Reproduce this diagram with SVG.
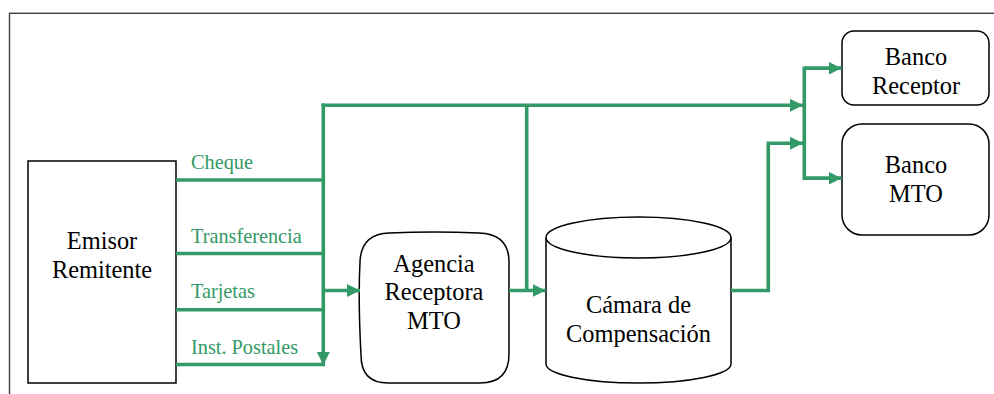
<svg xmlns="http://www.w3.org/2000/svg" width="994" height="394" viewBox="0 0 994 394">
<style>
.frame{fill:none;stroke:#404040;stroke-width:1.4}
.box{fill:#fff;stroke:#000;stroke-width:1.5}
.t{font-family:'Liberation Serif','DejaVu Serif',serif;font-size:24.4px;fill:#000;text-anchor:middle}
.g{font-family:'Liberation Serif','DejaVu Serif',serif;font-size:20.3px;fill:#339966}
.c{fill:none;stroke:#339966;stroke-width:3.6;stroke-linejoin:miter}
.ca{fill:none;stroke:#339966;stroke-width:3.6;marker-end:url(#ah)}
</style>
<defs>
<marker id="ah" markerUnits="userSpaceOnUse" markerWidth="14" markerHeight="14" refX="13" refY="6.5" orient="auto">
<path d="M0,0 L13,6.5 L0,13 z" fill="#339966"/>
</marker>
<clipPath id="clipRec"><rect x="842" y="31" width="148" height="64"/></clipPath>
</defs>
<rect class="frame" x="9.5" y="13.3" width="1000" height="400"/>

<g id="emisor">
<rect class="box" x="28" y="161" width="148" height="222"/>
<text class="t" x="102" y="249">Emisor</text>
<text class="t" x="102" y="277.5">Remitente</text>
</g>

<g id="agencia">
<path class="box" d="M389,233 Q434,231 479,233 Q509,234 509,262 L509,354 Q509,383 480,383 L388,383 Q361,383 361,355 Q358,300 360,262 Q361,234 389,233 Z"/>
<text class="t" x="434" y="271.5">Agencia</text>
<text class="t" x="434" y="300">Receptora</text>
<text class="t" x="434" y="329">MTO</text>
</g>

<g id="camara">
<path class="box" d="M546,237.5 L546,364 A92.5,19 0 0 0 731,364 L731,237.5"/>
<ellipse class="box" cx="638.5" cy="237.5" rx="92.5" ry="20.5"/>
<text class="t" x="638.5" y="313.3">Cámara de</text>
<text class="t" x="638.5" y="342.3">Compensación</text>
</g>

<g id="bancoReceptor">
<rect class="box" x="842" y="31" width="147" height="74" rx="12"/>
<text class="t" x="916" y="65">Banco</text>
<text class="t" x="916" y="94" clip-path="url(#clipRec)">Receptor</text>
</g>

<g id="bancoMTO">
<rect class="box" x="842" y="124" width="147" height="111" rx="20"/>
<text class="t" x="916" y="173.3">Banco</text>
<text class="t" x="916" y="202.3">MTO</text>
</g>

<g id="labels">
<text class="g" x="191" y="169.3">Cheque</text>
<text class="g" x="191" y="243.3">Transferencia</text>
<text class="g" x="191" y="298.3">Tarjetas</text>
<text class="g" x="191" y="354">Inst. Postales</text>
</g>

<g id="connectors">
<line class="c" x1="176" y1="180" x2="323.3" y2="180"/>
<line class="c" x1="176" y1="253.5" x2="323.3" y2="253.5"/>
<line class="c" x1="176" y1="309.7" x2="323.3" y2="309.7"/>
<line class="c" x1="176" y1="364.5" x2="325" y2="364.5"/>
<line class="ca" x1="323.3" y1="103.5" x2="323.3" y2="365"/>
<line class="ca" x1="321.5" y1="105.3" x2="803" y2="105.3"/>
<line class="ca" x1="323.3" y1="290.5" x2="360" y2="290.5"/>
<line class="c" x1="526.7" y1="105.3" x2="526.7" y2="290.5"/>
<line class="ca" x1="509" y1="290.5" x2="545.5" y2="290.5"/>
<polyline class="ca" points="731,290.5 768.3,290.5 768.3,143.3 803,143.3"/>
<polyline class="c" points="841,68.3 804.3,68.3 804.3,178.3 841,178.3"/>
<line class="ca" x1="804.3" y1="68.3" x2="841.5" y2="68.3"/>
<line class="ca" x1="804.3" y1="178.3" x2="841.5" y2="178.3"/>
</g>
</svg>
